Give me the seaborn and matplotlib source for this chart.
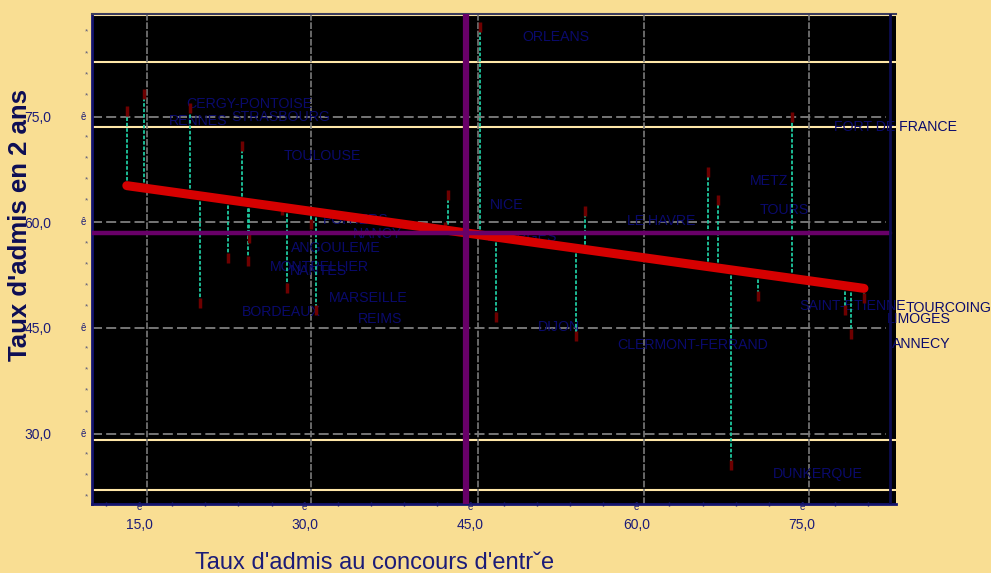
import numpy as np
import pandas as pd
import seaborn as sns
import matplotlib.pyplot as plt

# Villes, taux d'admis au concours d'entree (x) et taux d'admis en 2 ans (y)
cities = ["RENNES", "CERGY-PONTOISE", "STRASBOURG", "BORDEAUX", "MONTPELLIER",
          "TOULOUSE", "NANTES", "ANGOULEME", "POITIERS", "MARSEILLE", "NANCY",
          "REIMS", "BOURGES", "NICE", "ORLEANS", "DIJON", "CLERMONT-FERRAND",
          "LE HAVRE", "METZ", "TOURS", "DUNKERQUE", "SAINT-ETIENNE",
          "FORT DE FRANCE", "LIMOGES", "ANNECY", "TOURCOING"]
admis_concours = [13.9, 15.5, 19.6, 20.5, 23.1, 24.3, 24.9, 25.0, 27.9, 28.4, 30.6,
                  31.0, 42.7, 43.0, 45.9, 47.3, 54.5, 55.4, 66.5, 67.4, 68.6, 71.0,
                  74.1, 78.9, 79.4, 80.6]
admis_2ans = [75.8, 78.2, 76.3, 48.6, 55.0, 70.8, 54.5, 57.8, 61.7, 50.7, 59.8,
              47.6, 59.3, 63.9, 87.7, 46.5, 43.9, 61.6, 67.2, 63.2, 25.6, 49.5,
              74.9, 47.6, 44.1, 49.2]

x_ticks = [15, 30, 45, 60, 75]
x_tick_labels = ["15,0", "30,0", "45,0", "60,0", "75,0"]
y_ticks = [30, 45, 60, 75]
y_tick_labels = ["30,0", "45,0", "60,0", "75,0"]
x_grid = [15.7, 30.6, 45.7, 60.7, 75.6]
ref_levels = [89.4, 82.8, 73.5, 29.1, 22.0]
y_minor = [v for v in range(21, 90, 3) if v % 15 != 0]

BG = "#F9DE93"
NAVY = "#1c1c78"
TEXT_NAVY = "#0a0a6c"
PURPLE = "#680068"

df = pd.DataFrame({"ville": cities, "concours": admis_concours, "deux_ans": admis_2ans})

sns.set_theme(style="dark", rc={"axes.facecolor": "black", "figure.facecolor": BG})
plt.rcParams["font.family"] = ["Liberation Sans", "DejaVu Sans"]

fig = plt.figure(figsize=(9.91, 5.73), dpi=100, facecolor=BG)
ax = fig.add_axes([92 / 991, 1 - 504 / 573, 804 / 991, 490 / 573])
ax.set_facecolor("black")

# reference lines
for v in ref_levels:
    ax.axhline(v, color="#FFE7A8", lw=1.5, zorder=1)
for v in y_ticks:
    ax.axhline(v, xmax=0.988, color="#8a8a8a", lw=1.2, ls=(0, (6, 2.5)), zorder=2)
for v in x_grid:
    ax.axvline(v, color="#7a7a7a", lw=1.2, ls=(0, (4, 1)), zorder=2)

# city labels
for _, r in df.iterrows():
    ax.annotate(r["ville"], (r["concours"], r["deux_ans"]), xytext=(30, -7),
                textcoords="offset points", fontsize=10.2, color=TEXT_NAVY,
                ha="left", va="center", zorder=3, annotation_clip=False)

# residuals from the fitted line
slope, intercept = np.polyfit(df["concours"], df["deux_ans"], 1)
fitted = intercept + slope * df["concours"]
ax.vlines(df["concours"], fitted, df["deux_ans"], colors="#1fc9a0",
          linestyles=(0, (2, 1)), lw=1.3, zorder=4)
ax.scatter(df["concours"], df["deux_ans"], marker="|", s=60, linewidths=2.5,
           color="#6e0000", zorder=5)

sns.regplot(data=df, x="concours", y="deux_ans", scatter=False, ci=None, ax=ax,
            line_kws=dict(color="#d60000", lw=6.5, zorder=6))

# means
ax.axvline(df["concours"].mean(), color=PURPLE, lw=4.5, zorder=7)
ax.axhline(df["deux_ans"].mean(), xmax=0.993, color=PURPLE, lw=3.2, zorder=7)

ax.plot([0.9925, 0.9925], [0, 1], transform=ax.transAxes, color="#0c0c50", lw=2, zorder=8)

ax.set_xlim(10.75, 83.5)
ax.set_ylim(20.0, 89.6)
ax.set_xlabel("")
ax.set_ylabel("")

ax.set_xticks(x_ticks, labels=x_tick_labels)
ax.set_yticks(y_ticks, labels=y_tick_labels)
ax.set_xticks(np.arange(12, 84, 3), minor=True)
ax.tick_params(axis="x", which="major", length=0, pad=10, labelsize=10, labelcolor=NAVY)
ax.tick_params(axis="y", which="major", length=0, pad=29, labelsize=10, labelcolor=NAVY)
ax.tick_params(axis="x", which="minor", direction="inout", length=3, width=1, color=NAVY, bottom=True)

for v in x_ticks:
    ax.annotate("ê", (v, 0), xycoords=("data", "axes fraction"), xytext=(0, -2),
                textcoords="offset points", fontsize=7, color=NAVY, ha="center", va="center",
                annotation_clip=False)
for v in y_ticks:
    ax.annotate("ê", (0, v), xycoords=("axes fraction", "data"), xytext=(-6, 0),
                textcoords="offset points", fontsize=7, color=NAVY, ha="center", va="center",
                annotation_clip=False)
for v in y_minor:
    ax.annotate("*", (0, v), xycoords=("axes fraction", "data"), xytext=(-4, 0),
                textcoords="offset points", fontsize=6, color="#55557a", ha="center", va="center",
                annotation_clip=False)

for side in ["left", "bottom"]:
    ax.spines[side].set_color("#14146e")
    ax.spines[side].set_linewidth(2)
ax.spines["top"].set_color("#3c3c5c")
ax.spines["top"].set_linewidth(1.5)
ax.spines["right"].set_visible(False)

fig.text(375 / 991, 1 - 563 / 573, "Taux d'admis au concours d'entr\u02c7e",
         ha="center", va="center", fontsize=17, color=NAVY)
fig.text(20 / 991, 1 - 225 / 573, "Taux d'admis en 2 ans", rotation=90,
         ha="center", va="center", fontsize=18.5, fontweight="bold", color="#0d0d55")

fig.savefig("out.png", dpi=100, facecolor=BG)
